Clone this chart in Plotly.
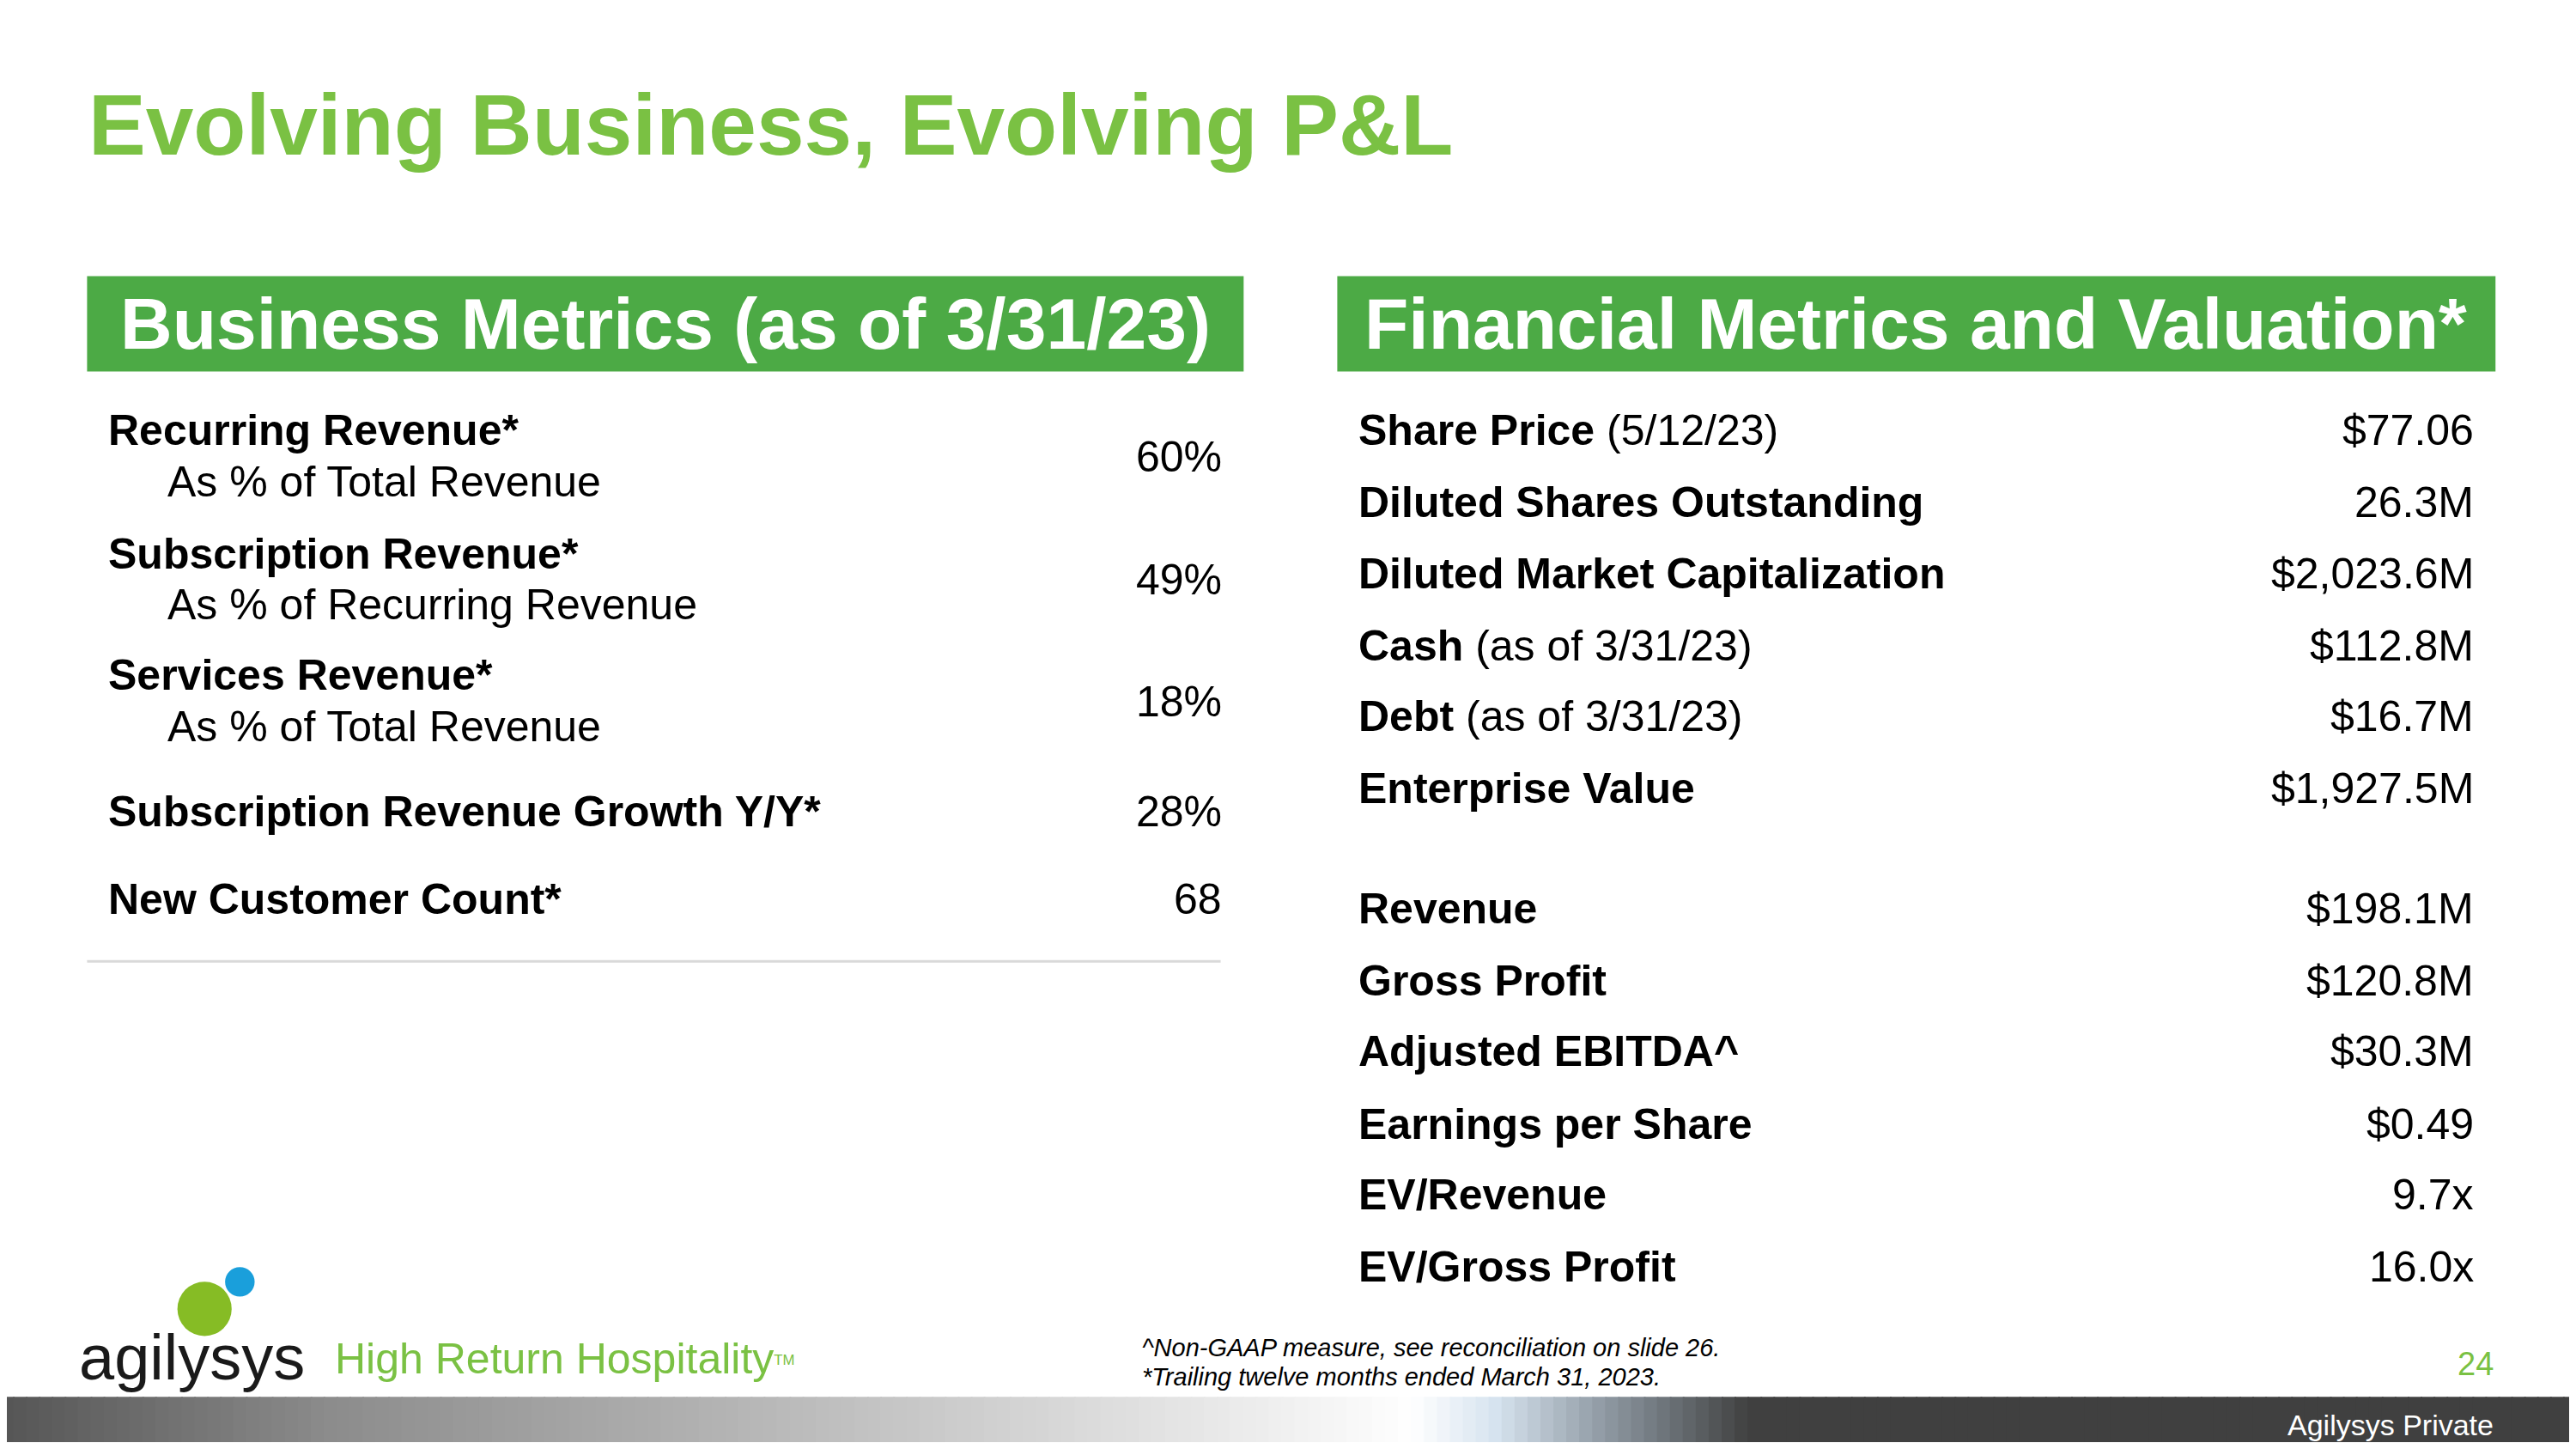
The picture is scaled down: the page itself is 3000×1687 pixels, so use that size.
import plotly.graph_objects as go
import numpy as np

W, H = 2984, 1671
S = 3000 / 1568.0
OFF = 8

biz_labels = ["Recurring Revenue*", "Subscription Revenue*", "Services Revenue*",
              "Subscription Revenue Growth Y/Y*", "New Customer Count*"]
biz_sub = ["As % of Total Revenue", "As % of Recurring Revenue", "As % of Total Revenue", "", ""]
biz_values = ["60%", "49%", "18%", "28%", "68"]

fin_labels = ["Share Price", "Diluted Shares Outstanding", "Diluted Market Capitalization",
              "Cash", "Debt", "Enterprise Value",
              "Revenue", "Gross Profit", "Adjusted EBITDA^", "Earnings per Share",
              "EV/Revenue", "EV/Gross Profit"]
fin_notes = [" (5/12/23)", "", "", " (as of 3/31/23)", " (as of 3/31/23)", "",
             "", "", "", "", "", ""]
fin_values = ["$77.06", "26.3M", "$2,023.6M", "$112.8M", "$16.7M", "$1,927.5M",
              "$198.1M", "$120.8M", "$30.3M", "$0.49", "9.7x", "16.0x"]

def px(x): return (x * S - OFF) / W
def py(y): return 1 - (y * S - OFF) / H

FONT = "Liberation Sans, Arial, sans-serif"
ann, shapes = [], []

def txt(x, y, t, size, color="#000", anchor="left", vanchor="middle"):
    ann.append(dict(x=px(x), y=py(y), xref="paper", yref="paper", text=t, showarrow=False,
                    xanchor=anchor, yanchor=vanchor, font=dict(family=FONT, size=size, color=color)))

def rect(x0, y0, x1, y1, color):
    shapes.append(dict(type="rect", xref="paper", yref="paper", x0=px(x0), x1=px(x1),
                       y0=py(y1), y1=py(y0), fillcolor=color, line=dict(width=0), layer="below"))

txt(53, 76, "<b>Evolving Business, Evolving P&L</b>", 100, "#7AC143")

rect(53, 168, 757, 226, "#4CAA45")
rect(814, 168, 1519, 226, "#4CAA45")
txt(405, 197, "<b>Business Metrics (as of 3/31/23)</b>", 84, "#fff", "center")
txt(1166, 197, "<b>Financial Metrics and Valuation*</b>", 84, "#fff", "center")

bs = 50
biz_y = [262, 337, 411, 494, 547]
for i, (l, s2, v) in enumerate(zip(biz_labels, biz_sub, biz_values)):
    y = biz_y[i]
    txt(65, y, "<b>" + l + "</b>", bs)
    if s2:
        txt(101, y + 31, s2, bs)
        txt(745, y + 16, v, bs, anchor="right")
    else:
        txt(745, y, v, bs, anchor="right")
shapes.append(dict(type="line", xref="paper", yref="paper", x0=px(53), x1=px(743),
                   y0=py(585), y1=py(585), line=dict(color="#d9d9d9", width=3)))

fin_y = [262, 306, 349, 393, 436, 480, 553, 597, 640, 684, 727, 771]
for y, l, n, v in zip(fin_y, fin_labels, fin_notes, fin_values):
    txt(826, y, "<b>" + l + "</b>" + n, bs)
    txt(1507, y, v, bs, anchor="right")

txt(694, 820, "<i>^Non-GAAP measure, see reconciliation on slide 26.</i>", 29)
txt(694, 838, "<i>*Trailing twelve months ended March 31, 2023.</i>", 29)

# logo
shapes.append(dict(type="circle", xref="paper", yref="paper", x0=px(108), x1=px(141),
                   y0=py(813), y1=py(780), fillcolor="#86BC25", line=dict(width=0)))
shapes.append(dict(type="circle", xref="paper", yref="paper", x0=px(137), x1=px(155),
                   y0=py(789), y1=py(771), fillcolor="#1A9FDB", line=dict(width=0)))
txt(47, 826, "agilysys", 74, "#1a1a1a")
txt(203, 827, "High Return Hospitality<span style='font-size:24px'><sup>TM</sup></span>", 50, "#7AC143")
txt(1519, 830, "24", 38, "#7AC143", anchor="right")

# gradient footer bar
stops = [(0, (85, 85, 85)), (200, (140, 140, 140)), (500, (190, 190, 190)), (780, (240, 240, 240)),
         (860, (255, 255, 255)), (910, (215, 228, 240)), (980, (140, 150, 160)),
         (1065, (64, 64, 64)), (1568, (64, 64, 64))]
xs = np.linspace(0, 1568, 200)
sx = [s[0] for s in stops]
for i in range(len(xs) - 1):
    xm = (xs[i] + xs[i + 1]) / 2
    c = [int(np.interp(xm, sx, [s[1][k] for s in stops])) for k in range(3)]
    rect(xs[i], 850, xs[i + 1] + 1, 890, "rgb(%d,%d,%d)" % tuple(c))
txt(1519, 867, "Agilysys Private", 34, "#fff", anchor="right")

fig = go.Figure()
fig.update_layout(width=W, height=H, margin=dict(l=0, r=0, t=0, b=0),
                  paper_bgcolor="#fff", plot_bgcolor="#fff",
                  xaxis=dict(visible=False), yaxis=dict(visible=False),
                  annotations=ann, shapes=shapes, showlegend=False)
fig.write_html("out.html")
